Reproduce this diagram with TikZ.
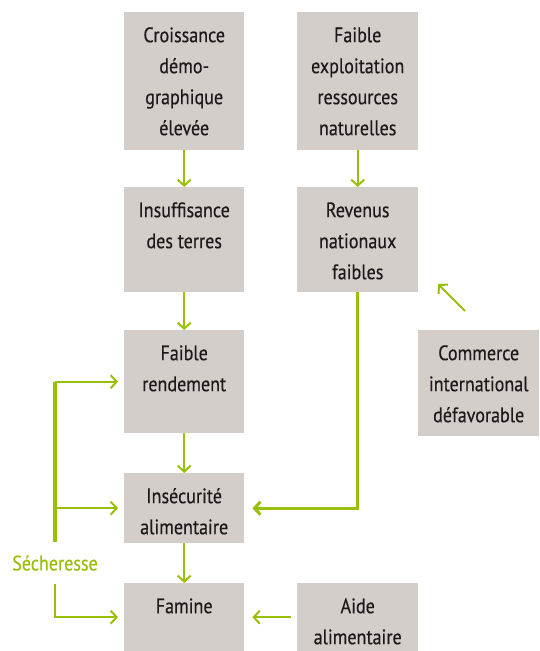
\documentclass[tikz,border=0pt]{standalone}
\usepackage{fontspec}
\setmainfont{PT Sans}[FakeStretch=0.86,FakeBold=0.4]
\usetikzlibrary{arrows.meta,positioning}
\definecolor{boxgray}{RGB}{211,206,202}
\definecolor{leafgreen}{RGB}{152,191,10}
\definecolor{inkblack}{RGB}{30,26,27}
\newcommand{\boxtxt}[3]{\parbox[t][#2][t]{#1}{\centering\rule{0pt}{30pt}#3}}

\begin{document}
\begin{tikzpicture}[x=1pt,y=-1pt,font=\fontsize{21}{31}\selectfont,
        cause/.style={fill=boxgray,inner sep=0pt,anchor=north west,text=inkblack},
        link/.style={leafgreen,line width=2pt,-{Straight Barb[length=6pt,width=13pt]}},
        biglink/.style={link,line width=3pt},
        trunk/.style={leafgreen,line width=4pt}]
        \useasboundingbox (0,0) rectangle (539,651);
        % left column
        \node [cause] (croiss) at (124,12) {\boxtxt{120pt}{138pt}{Croissance\\démo-\\graphique\\élevée}};
        \node [cause] (insuff) at (124,187) {\boxtxt{120pt}{105pt}{Insuffisance\\des terres}};
        \node [cause] (rend) at (124,330) {\boxtxt{120pt}{103pt}{Faible\\rendement}};
        \node [cause] (insec) at (124,473) {\boxtxt{120pt}{70pt}{Insécurité\\alimentaire}};
        \node [cause] (famine) at (124,583) {\boxtxt{120pt}{68pt}{Famine}};
        % right column
        \node [cause] (exploit) at (297,12) {\boxtxt{121pt}{138pt}{Faible\\exploitation\\ressources\\naturelles}};
        \node [cause] (revenus) at (297,187) {\boxtxt{121pt}{105pt}{Revenus\\nationaux\\faibles}};
        \node [cause] (aide) at (297,583) {\boxtxt{121pt}{68pt}{Aide\\alimentaire}};
        \node [cause] (commerce) at (418,330) {\boxtxt{121pt}{106pt}{Commerce\\international\\défavorable}};
        \node [leafgreen,minimum height=42pt,inner sep=0pt] (seche) at (55,563) {Sécheresse};
        \foreach \a/\b in {croiss/insuff,insuff/rend,rend/insec,insec/famine,exploit/revenus} {
            \draw [link] (\a) -- (\b); % downward chain
        }
        \draw [biglink,shorten >=8pt] (revenus.south) |- (insec.east);
        \draw [link,shorten <=6pt,shorten >=8pt] (aide) -- (famine);
        \coordinate (tradetail) at (465,311);
        \coordinate (tradehead) at (438,284);
        \draw [link] (tradetail) -- (tradehead); % trade pressure on income
        % drought branches
        \draw [trunk] (seche.north) -- (seche.north |- rend.west);
        \draw [link,shorten >=6pt] (seche.north |- rend.west) -- (rend.west);
        \draw [link,shorten >=6pt] (seche.north |- insec.west) -- (insec.west);
        \draw [link,shorten >=6pt] (seche.south) |- (famine.west);
\end{tikzpicture}
\end{document}
